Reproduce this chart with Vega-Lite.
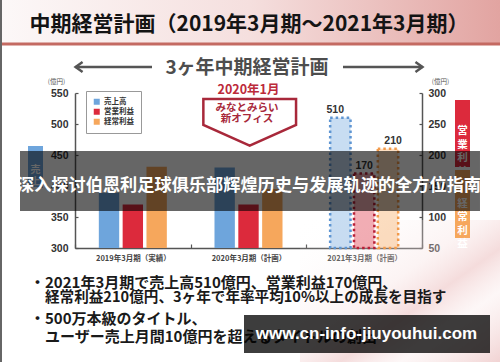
{
"$schema":"https://vega.github.io/schema/vega-lite/v6.json",
"width":347,"height":155,
"autosize":{"type":"none"},
"padding":{"left":75,"top":93,"right":78,"bottom":114},
"background":"#ffffff",
"config":{"view":{"stroke":null},"font":"Noto Sans CJK JP"},
"datasets":{"fin":[
{"period":"2019年3月期（実績）","series":"売上高","value":389},
{"period":"2019年3月期（実績）","series":"営業利益","value":120},
{"period":"2019年3月期（実績）","series":"経常利益","value":181},
{"period":"2020年3月期（計画）","series":"売上高","value":430},
{"period":"2020年3月期（計画）","series":"営業利益","value":120},
{"period":"2020年3月期（計画）","series":"経常利益","value":145},
{"period":"2021年3月期（計画）","series":"売上高","value":510},
{"period":"2021年3月期（計画）","series":"営業利益","value":170},
{"period":"2021年3月期（計画）","series":"経常利益","value":210}
]},
"resolve":{"scale":{"x":"independent","y":"independent","xOffset":"independent"}},
"layer":[
{"data":{"values":[{}]},"mark":{"type":"rect","color":{"gradient":"linear","x1":0,"y1":0,"x2":1,"y2":1,"stops":[{"offset":0,"color":"rgba(255,255,255,0)"},{"offset":0.45,"color":"rgba(246,222,222,0.35)"},{"offset":0.6,"color":"rgba(240,205,205,0.7)"},{"offset":0.75,"color":"rgba(250,235,235,0.4)"},{"offset":1,"color":"rgba(238,200,200,0.8)"}]}},
 "encoding":{"x":{"datum":1.945,"type":"quantitative","scale":{"domain":[0,3],"nice":false,"zero":false},"axis":null},"x2":{"datum":3.6744},
 "y":{"datum":345,"type":"quantitative","scale":{"domain":[300,550],"nice":false,"zero":false},"axis":null},"y2":{"datum":116}}},
{"data":{"values":[{}]},"mark":{"type":"rect","color":{"gradient":"linear","x1":0,"y1":0,"x2":1,"y2":0,"stops":[{"offset":0,"color":"#fcf8f8"},{"offset":0.5,"color":"#f5dfde"},{"offset":1,"color":"#e2a4a1"}]}},
 "encoding":{"x":{"datum":-0.6484,"type":"quantitative","scale":{"domain":[0,3],"nice":false,"zero":false},"axis":null},"x2":{"datum":3.6744},
 "y":{"datum":700,"type":"quantitative","scale":{"domain":[300,550],"nice":false,"zero":false},"axis":null},"y2":{"datum":630.6}}},
{"data":{"values":[{}]},"mark":{"type":"rule","color":"#c46a62","strokeWidth":3},
 "encoding":{"x":{"datum":-0.6484,"type":"quantitative","scale":{"domain":[0,3],"nice":false,"zero":false},"axis":null},"x2":{"datum":3.6744},
 "y":{"datum":629,"type":"quantitative","scale":{"domain":[300,550],"nice":false,"zero":false},"axis":null}}},
{"data":{"values":[{}]},"mark":{"type":"rect","color":"#666666"},
 "encoding":{"x":{"datum":-0.6484,"type":"quantitative","scale":{"domain":[0,3],"nice":false,"zero":false},"axis":null},"x2":{"datum":-0.6311},
 "y":{"datum":700,"type":"quantitative","scale":{"domain":[300,550],"nice":false,"zero":false},"axis":null},"y2":{"datum":116}}},
{"data":{"values":[{}]},"mark":{"type":"text","text":"中期経営計画（2019年3月期～2021年3月期）","font":"Noto Sans CJK JP","fontSize":21,"fontWeight":"bold","color":"#141414","align":"center","baseline":"middle"},
 "encoding":{"x":{"datum":1.5043,"type":"quantitative","scale":{"domain":[0,3],"nice":false,"zero":false},"axis":null},
 "y":{"datum":659.7,"type":"quantitative","scale":{"domain":[300,550],"nice":false,"zero":false},"axis":null}}},
{"data":{"values":[{}]},"mark":{"type":"text","text":"3ヶ年中期経営計画","font":"Noto Sans CJK JP","fontSize":19,"fontWeight":"bold","color":"#4d4d4d","align":"center","baseline":"middle"},
 "encoding":{"x":{"datum":1.487,"type":"quantitative","scale":{"domain":[0,3],"nice":false,"zero":false},"axis":null},
 "y":{"datum":590.3,"type":"quantitative","scale":{"domain":[300,550],"nice":false,"zero":false},"axis":null}}},
{"data":{"values":[{}]},"mark":{"type":"rule","color":"#555555","strokeWidth":2.5},
 "encoding":{"x":{"datum":0.005,"type":"quantitative","scale":{"domain":[0,3],"nice":false,"zero":false},"axis":null},"x2":{"datum":0.6657},
 "y":{"datum":591.9,"type":"quantitative","scale":{"domain":[300,550],"nice":false,"zero":false},"axis":null}}},
{"data":{"values":[{}]},"mark":{"type":"rule","color":"#555555","strokeWidth":2.5},
 "encoding":{"x":{"datum":2.317,"type":"quantitative","scale":{"domain":[0,3],"nice":false,"zero":false},"axis":null},"x2":{"datum":3.004},
 "y":{"datum":591.9,"type":"quantitative","scale":{"domain":[300,550],"nice":false,"zero":false},"axis":null}}},
{"data":{"values":[{}]},"mark":{"type":"point","shape":"M 1.4 -1 L 0 0 L 1.4 1","size":100,"filled":false,"stroke":"#555555","strokeWidth":2.5,"opacity":1},
 "encoding":{"x":{"datum":0.005,"type":"quantitative","scale":{"domain":[0,3],"nice":false,"zero":false},"axis":null},
 "y":{"datum":591.9,"type":"quantitative","scale":{"domain":[300,550],"nice":false,"zero":false},"axis":null}}},
{"data":{"values":[{}]},"mark":{"type":"point","shape":"M -1.4 -1 L 0 0 L -1.4 1","size":100,"filled":false,"stroke":"#555555","strokeWidth":2.5,"opacity":1},
 "encoding":{"x":{"datum":3.004,"type":"quantitative","scale":{"domain":[0,3],"nice":false,"zero":false},"axis":null},
 "y":{"datum":591.9,"type":"quantitative","scale":{"domain":[300,550],"nice":false,"zero":false},"axis":null}}},
{"data":{"values":[{}]},"mark":{"type":"text","text":"2020年1月","font":"Noto Sans CJK JP","fontSize":12.5,"fontWeight":"bold","color":"#bc2a3a","align":"center","baseline":"middle"},
 "encoding":{"x":{"datum":1.5,"type":"quantitative","scale":{"domain":[0,3],"nice":false,"zero":false},"axis":null},
 "y":{"datum":554.8,"type":"quantitative","scale":{"domain":[300,550],"nice":false,"zero":false},"axis":null}}},
{"data":{"values":[{}]},"mark":{"type":"point","shape":"M -1 -0.504 L 1 -0.504 L 1 0.058 L 0 0.504 L -1 0.058 Z","size":8593,"filled":true,"fill":"#ffffff","stroke":"#a8283a","strokeWidth":2.5,"opacity":1},
 "encoding":{"x":{"datum":1.5104,"type":"quantitative","scale":{"domain":[0,3],"nice":false,"zero":false},"axis":null},
 "y":{"datum":502.7,"type":"quantitative","scale":{"domain":[300,550],"nice":false,"zero":false},"axis":null}}},
{"data":{"values":[{}]},"mark":{"type":"text","text":"みなとみらい","font":"Noto Sans CJK JP","fontSize":10.5,"fontWeight":"bold","color":"#a8283a","align":"center","baseline":"middle"},
 "encoding":{"x":{"datum":1.487,"type":"quantitative","scale":{"domain":[0,3],"nice":false,"zero":false},"axis":null},
 "y":{"datum":526.6,"type":"quantitative","scale":{"domain":[300,550],"nice":false,"zero":false},"axis":null}}},
{"data":{"values":[{}]},"mark":{"type":"text","text":"新オフィス","font":"Noto Sans CJK JP","fontSize":10.5,"fontWeight":"bold","color":"#a8283a","align":"center","baseline":"middle"},
 "encoding":{"x":{"datum":1.487,"type":"quantitative","scale":{"domain":[0,3],"nice":false,"zero":false},"axis":null},
 "y":{"datum":507.3,"type":"quantitative","scale":{"domain":[300,550],"nice":false,"zero":false},"axis":null}}},
{"data":{"name":"fin"},"transform":[{"filter":"datum.series === '売上高' && datum.period !== '2021年3月期（計画）'"}],
 "mark":{"type":"bar"},
 "encoding":{
  "x":{"field":"period","type":"nominal","sort":null,"scale":{"domain":["2019年3月期（実績）","2020年3月期（計画）","2021年3月期（計画）"],"paddingInner":0,"paddingOuter":0},
   "axis":{"title":null,"labelAngle":0,"labelFont":"Noto Sans CJK JP","labelFontSize":7.5,"labelFontWeight":"bold","labelColor":"#444","domainColor":"#555","domainWidth":1.5,"tickColor":"#555","tickWidth":1.2,"tickSize":-4,"tickBand":"extent","labelPadding":10}},
  "xOffset":{"field":"series","type":"nominal","sort":null,"scale":{"domain":["売上高","営業利益","経常利益"],"paddingInner":0.145,"paddingOuter":1.11}},
  "y":{"field":"value","type":"quantitative","scale":{"domain":[300,550],"nice":false,"zero":false},
   "axis":{"orient":"left","values":[300,350,400,450,500,550],"title":"(億円)","titleAngle":0,"titleX":-19,"titleY":-12,"titleAlign":"center","titleBaseline":"middle","titleFont":"Noto Sans CJK JP","titleFontSize":6.5,"titleFontWeight":"normal","titleColor":"#555","labelFont":"Liberation Sans","labelFontSize":10.5,"labelFontWeight":"bold","labelColor":"#333","labelOverlap":false,"domainColor":"#555","domainWidth":1.5,"tickColor":"#555","tickWidth":1.2,"tickSize":-3,"labelPadding":10,"grid":false}},
  "y2":{"datum":300},
  "color":{"field":"series","type":"nominal","sort":null,"scale":{"domain":["売上高","営業利益","経常利益"],"range":["#6ea5dc","#dc2a3c","#f6a75c"]},
   "legend":{"orient":"none","legendX":11,"legendY":-2,"title":null,"symbolType":"square","symbolSize":36,"symbolStrokeWidth":0,"symbolOpacity":1,"labelFont":"Noto Sans CJK JP","labelFontSize":7.5,"labelFontWeight":"bold","labelColor":"#333","labelOffset":3.5,"rowPadding":1,"padding":7,"strokeColor":"#999999","fillColor":"#ffffff"}}}},
{"data":{"name":"fin"},"transform":[{"filter":"datum.series === '売上高' && datum.period === '2021年3月期（計画）'"}],
 "mark":{"type":"bar","fillOpacity":0.38,"strokeWidth":2.5,"strokeDash":[2.5,3]},
 "encoding":{
  "x":{"field":"period","type":"nominal","sort":null,"scale":{"domain":["2019年3月期（実績）","2020年3月期（計画）","2021年3月期（計画）"],"paddingInner":0,"paddingOuter":0},"axis":null},
  "xOffset":{"field":"series","type":"nominal","sort":null,"scale":{"domain":["売上高","営業利益","経常利益"],"paddingInner":0.145,"paddingOuter":1.11}},
  "y":{"field":"value","type":"quantitative","scale":{"domain":[300,550],"nice":false,"zero":false},"axis":null},
  "y2":{"datum":300},
  "color":{"field":"series","type":"nominal","sort":null,"scale":{"domain":["売上高","営業利益","経常利益"],"range":["#6ea5dc","#dc2a3c","#f6a75c"]}},
  "stroke":{"field":"series","type":"nominal","sort":null,"scale":{"domain":["売上高","営業利益","経常利益"],"range":["#5e95d2","#b81e36","#f29a4a"]},"legend":null}}},
{"data":{"name":"fin"},"transform":[{"filter":"datum.series !== '売上高' && datum.period !== '2021年3月期（計画）'"}],
 "mark":{"type":"bar"},
 "encoding":{
  "x":{"field":"period","type":"nominal","sort":null,"scale":{"domain":["2019年3月期（実績）","2020年3月期（計画）","2021年3月期（計画）"],"paddingInner":0,"paddingOuter":0},"axis":null},
  "xOffset":{"field":"series","type":"nominal","sort":null,"scale":{"domain":["売上高","営業利益","経常利益"],"paddingInner":0.145,"paddingOuter":1.11}},
  "y":{"field":"value","type":"quantitative","scale":{"domain":[50,300],"nice":false,"zero":false},
   "axis":{"orient":"right","values":[50,100,150,200,250,300],"title":"(億円)","titleAngle":0,"titleX":18,"titleY":-12,"titleAlign":"center","titleBaseline":"middle","titleFont":"Noto Sans CJK JP","titleFontSize":6.5,"titleFontWeight":"normal","titleColor":"#555","labelFont":"Liberation Sans","labelFontSize":10.5,"labelFontWeight":"bold","labelColor":"#333","labelOverlap":false,"domainColor":"#555","domainWidth":1.5,"tickColor":"#555","tickWidth":1.2,"tickSize":-3,"labelPadding":9,"grid":false}},
  "y2":{"datum":50},
  "color":{"field":"series","type":"nominal","sort":null,"scale":{"domain":["売上高","営業利益","経常利益"],"range":["#6ea5dc","#dc2a3c","#f6a75c"]}}}},
{"data":{"name":"fin"},"transform":[{"filter":"datum.series !== '売上高' && datum.period === '2021年3月期（計画）'"}],
 "mark":{"type":"bar","fillOpacity":0.38,"strokeWidth":2.5,"strokeDash":[2.5,3]},
 "encoding":{
  "x":{"field":"period","type":"nominal","sort":null,"scale":{"domain":["2019年3月期（実績）","2020年3月期（計画）","2021年3月期（計画）"],"paddingInner":0,"paddingOuter":0},"axis":null},
  "xOffset":{"field":"series","type":"nominal","sort":null,"scale":{"domain":["売上高","営業利益","経常利益"],"paddingInner":0.145,"paddingOuter":1.11}},
  "y":{"field":"value","type":"quantitative","scale":{"domain":[50,300],"nice":false,"zero":false},"axis":null},
  "y2":{"datum":50},
  "color":{"field":"series","type":"nominal","sort":null,"scale":{"domain":["売上高","営業利益","経常利益"],"range":["#6ea5dc","#dc2a3c","#f6a75c"]}},
  "stroke":{"field":"series","type":"nominal","sort":null,"scale":{"domain":["売上高","営業利益","経常利益"],"range":["#5e95d2","#b81e36","#f29a4a"]},"legend":null}}},
{"data":{"name":"fin"},"transform":[{"filter":"datum.series === '売上高' && datum.period === '2021年3月期（計画）'"}],
 "mark":{"type":"text","font":"Liberation Sans","fontSize":10.5,"fontWeight":"bold","color":"#333333","baseline":"middle","dy":-8},
 "encoding":{
  "x":{"field":"period","type":"nominal","sort":null,"scale":{"domain":["2019年3月期（実績）","2020年3月期（計画）","2021年3月期（計画）"],"paddingInner":0,"paddingOuter":0},"axis":null},
  "xOffset":{"field":"series","type":"nominal","sort":null,"scale":{"domain":["売上高","営業利益","経常利益"],"paddingInner":0.145,"paddingOuter":1.11}},
  "y":{"field":"value","type":"quantitative","scale":{"domain":[300,550],"nice":false,"zero":false},"axis":null},
  "text":{"field":"value","type":"quantitative"}}},
{"data":{"name":"fin"},"transform":[{"filter":"datum.series !== '売上高' && datum.period === '2021年3月期（計画）'"}],
 "mark":{"type":"text","font":"Liberation Sans","fontSize":10.5,"fontWeight":"bold","color":"#333333","baseline":"middle","dy":-8},
 "encoding":{
  "x":{"field":"period","type":"nominal","sort":null,"scale":{"domain":["2019年3月期（実績）","2020年3月期（計画）","2021年3月期（計画）"],"paddingInner":0,"paddingOuter":0},"axis":null},
  "xOffset":{"field":"series","type":"nominal","sort":null,"scale":{"domain":["売上高","営業利益","経常利益"],"paddingInner":0.145,"paddingOuter":1.11}},
  "y":{"field":"value","type":"quantitative","scale":{"domain":[50,300],"nice":false,"zero":false},"axis":null},
  "text":{"field":"value","type":"quantitative"}}},
{"data":{"values":[{}]},"mark":{"type":"rect","color":"#6ea5dc"},
 "encoding":{"x":{"datum":-0.4063,"type":"quantitative","scale":{"domain":[0,3],"nice":false,"zero":false},"axis":null},"x2":{"datum":-0.2767},
 "y":{"datum":464.5,"type":"quantitative","scale":{"domain":[300,550],"nice":false,"zero":false},"axis":null},"y2":{"datum":396.8}}},
{"data":{"values":[{}]},"mark":{"type":"text","text":["売","上","高"],"lineHeight":11.5,"font":"Noto Sans CJK JP","fontSize":10,"fontWeight":"bold","color":"#ffffff","align":"center","baseline":"middle"},
 "encoding":{"x":{"datum":-0.3415,"type":"quantitative","scale":{"domain":[0,3],"nice":false,"zero":false},"axis":null},
 "y":{"datum":425.8,"type":"quantitative","scale":{"domain":[300,550],"nice":false,"zero":false},"axis":null}}},
{"data":{"values":[{}]},"mark":{"type":"rect","color":"#dc2a3c"},
 "encoding":{"x":{"datum":3.2853,"type":"quantitative","scale":{"domain":[0,3],"nice":false,"zero":false},"axis":null},"x2":{"datum":3.415},
 "y":{"datum":538.7,"type":"quantitative","scale":{"domain":[300,550],"nice":false,"zero":false},"axis":null},"y2":{"datum":430.6}}},
{"data":{"values":[{}]},"mark":{"type":"text","text":["営","業","利","益"],"lineHeight":13.5,"font":"Noto Sans CJK JP","fontSize":10.5,"fontWeight":"bold","color":"#ffffff","align":"center","baseline":"middle"},
 "encoding":{"x":{"datum":3.3501,"type":"quantitative","scale":{"domain":[0,3],"nice":false,"zero":false},"axis":null},
 "y":{"datum":488.7,"type":"quantitative","scale":{"domain":[300,550],"nice":false,"zero":false},"axis":null}}},
{"data":{"values":[{}]},"mark":{"type":"rect","color":"#f6a75c"},
 "encoding":{"x":{"datum":3.2853,"type":"quantitative","scale":{"domain":[0,3],"nice":false,"zero":false},"axis":null},"x2":{"datum":3.415},
 "y":{"datum":425.8,"type":"quantitative","scale":{"domain":[300,550],"nice":false,"zero":false},"axis":null},"y2":{"datum":316.1}}},
{"data":{"values":[{}]},"mark":{"type":"text","text":["経","常","利","益"],"lineHeight":13.5,"font":"Noto Sans CJK JP","fontSize":10.5,"fontWeight":"bold","color":"#ffffff","align":"center","baseline":"middle"},
 "encoding":{"x":{"datum":3.3501,"type":"quantitative","scale":{"domain":[0,3],"nice":false,"zero":false},"axis":null},
 "y":{"datum":371,"type":"quantitative","scale":{"domain":[300,550],"nice":false,"zero":false},"axis":null}}},
{"data":{"values":[{}]},"mark":{"type":"text","text":"・2021年3月期で売上高510億円、営業利益170億円、","font":"Noto Sans CJK JP","fontSize":15,"fontWeight":"bold","color":"#1a1a1a","align":"left","baseline":"middle"},
 "encoding":{"x":{"datum":-0.389,"type":"quantitative","scale":{"domain":[0,3],"nice":false,"zero":false},"axis":null},
 "y":{"datum":243.5,"type":"quantitative","scale":{"domain":[300,550],"nice":false,"zero":false},"axis":null}}},
{"data":{"values":[{}]},"mark":{"type":"text","text":"経常利益210億円、3ヶ年で年率平均10%以上の成長を目指す","font":"Noto Sans CJK JP","fontSize":14.6,"fontWeight":"bold","color":"#1a1a1a","align":"left","baseline":"middle"},
 "encoding":{"x":{"datum":-0.2594,"type":"quantitative","scale":{"domain":[0,3],"nice":false,"zero":false},"axis":null},
 "y":{"datum":219.4,"type":"quantitative","scale":{"domain":[300,550],"nice":false,"zero":false},"axis":null}}},
{"data":{"values":[{}]},"mark":{"type":"text","text":"・500万本級のタイトル、","font":"Noto Sans CJK JP","fontSize":15,"fontWeight":"bold","color":"#1a1a1a","align":"left","baseline":"middle"},
 "encoding":{"x":{"datum":-0.389,"type":"quantitative","scale":{"domain":[0,3],"nice":false,"zero":false},"axis":null},
 "y":{"datum":185.5,"type":"quantitative","scale":{"domain":[300,550],"nice":false,"zero":false},"axis":null}}},
{"data":{"values":[{}]},"mark":{"type":"text","text":"ユーザー売上月間10億円を超えるタイトルの創出","font":"Noto Sans CJK JP","fontSize":15,"fontWeight":"bold","color":"#1a1a1a","align":"left","baseline":"middle"},
 "encoding":{"x":{"datum":-0.2594,"type":"quantitative","scale":{"domain":[0,3],"nice":false,"zero":false},"axis":null},
 "y":{"datum":156.5,"type":"quantitative","scale":{"domain":[300,550],"nice":false,"zero":false},"axis":null}}},
{"data":{"values":[{}]},"mark":{"type":"rect","color":"#000000","opacity":0.6},
 "encoding":{"x":{"datum":-0.4755,"type":"quantitative","scale":{"domain":[0,3],"nice":false,"zero":false},"axis":null},"x2":{"datum":3.5014},
 "y":{"datum":456.5,"type":"quantitative","scale":{"domain":[300,550],"nice":false,"zero":false},"axis":null},"y2":{"datum":359.7}}},
{"data":{"values":[{}]},"mark":{"type":"text","text":"深入探讨伯恩利足球俱乐部辉煌历史与发展轨迹的全方位指南","font":"Noto Sans CJK SC","fontSize":17.2,"fontWeight":"bold","color":"#ffffff","align":"center","baseline":"middle"},
 "encoding":{"x":{"datum":1.5043,"type":"quantitative","scale":{"domain":[0,3],"nice":false,"zero":false},"axis":null},
 "y":{"datum":400,"type":"quantitative","scale":{"domain":[300,550],"nice":false,"zero":false},"axis":null}}},
{"data":{"values":[{}]},"mark":{"type":"rect","color":"#000000","opacity":0.76},
 "encoding":{"x":{"datum":1.4611,"type":"quantitative","scale":{"domain":[0,3],"nice":false,"zero":false},"axis":null},"x2":{"datum":3.5879},
 "y":{"datum":191.9,"type":"quantitative","scale":{"domain":[300,550],"nice":false,"zero":false},"axis":null},"y2":{"datum":130.6}}},
{"data":{"values":[{}]},"mark":{"type":"text","text":"www.cn-info-jiuyouhui.com","font":"Liberation Sans","fontSize":17,"fontWeight":"bold","color":"#ffffff","align":"center","baseline":"middle"},
 "encoding":{"x":{"datum":2.5202,"type":"quantitative","scale":{"domain":[0,3],"nice":false,"zero":false},"axis":null},
 "y":{"datum":161.3,"type":"quantitative","scale":{"domain":[300,550],"nice":false,"zero":false},"axis":null}}}
]
}
